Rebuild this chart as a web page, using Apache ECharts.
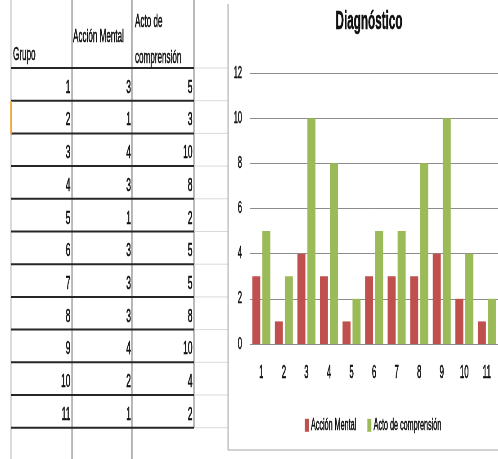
<!DOCTYPE html>
<html>
<head>
<meta charset="utf-8">
<script src="https://cdn.jsdelivr.net/npm/echarts@6/dist/echarts.min.js"></script>
<style>
  html, body { margin: 0; padding: 0; background: #fff; overflow: hidden; }
  /* la captura original está comprimida en horizontal: se dibuja más ancho y se encoge */
  #main { height: 459px; transform-origin: 0 0; }
</style>
</head>
<body>
<div id="main"></div>
<script>
const grupos = ['1', '2', '3', '4', '5', '6', '7', '8', '9', '10', '11'];
const accionMental = [3, 1, 4, 3, 1, 3, 3, 3, 4, 2, 1];
const actoComprension = [5, 3, 10, 8, 2, 5, 5, 8, 10, 4, 2];
const encabezados = ['Grupo', 'Acción Mental', 'Acto de', 'comprensión'];
const serieNombres = ['Acción Mental', 'Acto de comprensión'];

const S = 0.45;
const W = 498 / S;
const px = v => v / S; // x observado -> x sin escalar
const FONT = "'Liberation Sans', Arial, sans-serif";
const TINTA = '#111';
const GROSOR = 0.6; // trazo extra para que el texto encogido no quede tan fino

const el = document.getElementById('main');
el.style.width = W + 'px';
el.style.transform = 'scaleX(' + S + ')';

// tabla de la hoja de cálculo
const colX = [11, 72, 132, 194];
const filaY0 = 68, filaH = 32.7;
const g = [];

colX.forEach((x, i) => {
    g.push({
        type: 'line', silent: true,
        shape: { x1: px(x), y1: 0, x2: px(x), y2: i === 3 ? filaY0 + grupos.length * filaH : 459 },
        style: { stroke: i === 0 ? '#bcbcbc' : '#6f6f6f', lineWidth: 2.2 }
    });
});
for (let i = 0; i <= grupos.length; i++) {
    const y = filaY0 + i * filaH;
    g.push({ type: 'line', silent: true, shape: { x1: px(11), y1: y, x2: px(194), y2: y },
        style: { stroke: '#262626', lineWidth: 2 } });
    g.push({ type: 'line', silent: true, shape: { x1: px(194), y1: y, x2: px(228), y2: y },
        style: { stroke: '#d9d9d9', lineWidth: 1 } });
}
// celda seleccionada
g.push({ type: 'line', silent: true, shape: { x1: px(11), y1: 101, x2: px(11), y2: 134 },
    style: { stroke: '#f0a431', lineWidth: 3 } });

const txt = (text, x, y, align, size) => ({
    type: 'text', silent: true, x: px(x), y: y,
    style: { text: text, fill: TINTA, stroke: TINTA, lineWidth: GROSOR,
        font: size + 'px ' + FONT, textAlign: align, textVerticalAlign: 'middle' }
});
g.push(txt(encabezados[0], 13, 55, 'left', 18));
g.push(txt(encabezados[1], 73, 37, 'left', 18));
g.push(txt(encabezados[2], 135, 22, 'left', 18));
g.push(txt(encabezados[3], 135, 58, 'left', 18));

grupos.forEach((gr, i) => {
    const y = filaY0 + i * filaH + 19.5;
    g.push(txt(gr, 70.5, y, 'right', 19));
    g.push(txt(String(accionMental[i]), 131, y, 'right', 19));
    g.push(txt(String(actoComprension[i]), 192.5, y, 'right', 19));
});

// marco del gráfico
g.push({ type: 'line', silent: true, shape: { x1: px(228), y1: 4, x2: px(228), y2: 450 },
    style: { stroke: '#a6a6a6', lineWidth: 2.2 } });
g.push({ type: 'line', silent: true, shape: { x1: px(228), y1: 450, x2: px(498), y2: 450 },
    style: { stroke: '#a6a6a6', lineWidth: 1 } });

// título
g.push({ type: 'text', silent: true, x: px(369), y: 9,
    style: { text: 'Diagnóstico', fill: TINTA, stroke: TINTA, lineWidth: GROSOR,
        font: 'bold 26px ' + FONT, textAlign: 'center', textVerticalAlign: 'top' } });

const etiqueta = size => ({ fontFamily: FONT, fontSize: size, color: TINTA,
    textBorderColor: TINTA, textBorderWidth: GROSOR });

const chart = echarts.init(el);
chart.setOption({
    animation: false,
    backgroundColor: '#fff',
    color: ['#C0504D', '#9BBB59'],
    grid: { left: px(250), right: W - px(502), top: 73, bottom: 459 - 344 },
    legend: {
        left: px(302.5), top: 412,
        itemWidth: px(4), itemHeight: 13, itemGap: px(11),
        icon: 'rect',
        textStyle: etiqueta(16),
        data: serieNombres
    },
    xAxis: {
        type: 'category',
        data: grupos,
        axisLine: { lineStyle: { color: '#8c8c8c' } },
        axisTick: { show: false },
        axisLabel: Object.assign({ interval: 0, margin: 20 }, etiqueta(17.5))
    },
    yAxis: {
        type: 'value', min: 0, max: 12, interval: 2,
        axisLine: { show: false },
        axisTick: { show: false },
        axisLabel: Object.assign({ margin: px(8) }, etiqueta(16.5)),
        splitLine: { lineStyle: { color: '#8c8c8c' } }
    },
    series: [
        { name: serieNombres[0], type: 'bar', data: accionMental, barWidth: px(8), barGap: '25%' },
        { name: serieNombres[1], type: 'bar', data: actoComprension, barWidth: px(8) }
    ],
    graphic: g
});
</script>
</body>
</html>
